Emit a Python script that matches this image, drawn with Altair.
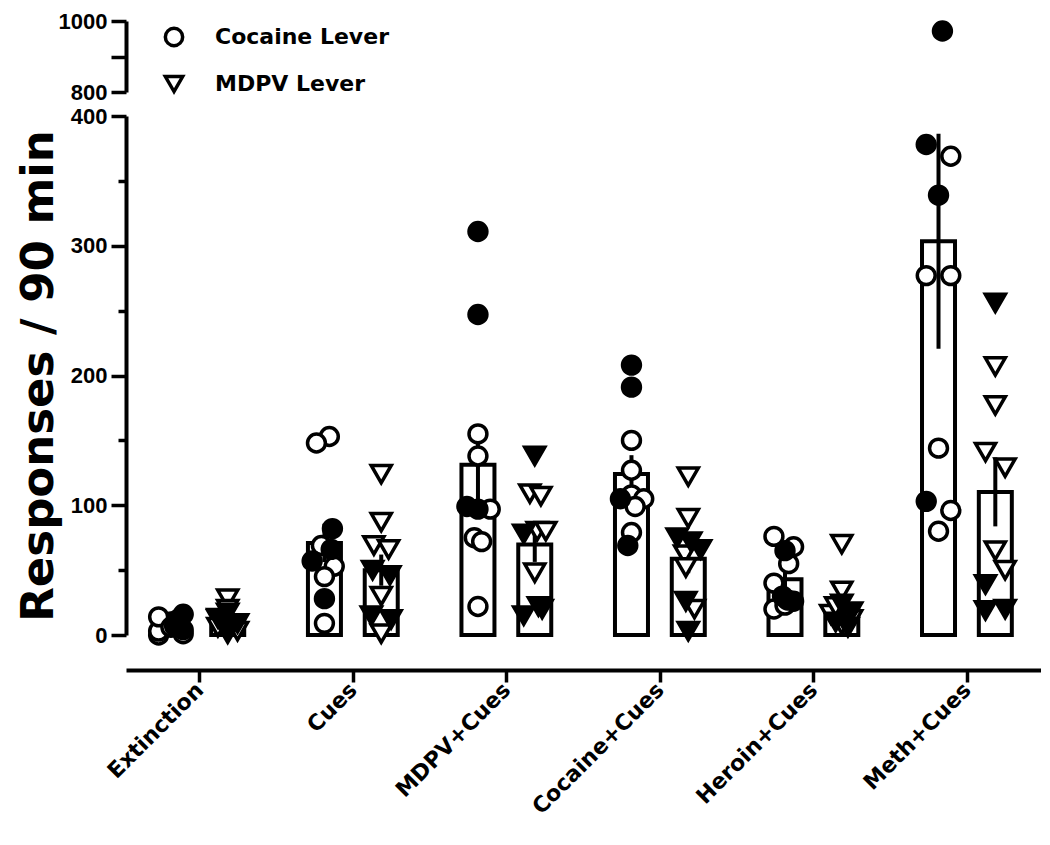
import json
import altair as alt
import pandas as pd

groups = ["Extinction", "Cues", "MDPV+Cues", "Cocaine+Cues", "Heroin+Cues", "Meth+Cues"]
levers = ["Cocaine Lever", "MDPV Lever"]

# Cocaine lever, open symbols
coc_open = [
    [0, 3, 10, 14, 6, 1],
    [153, 148, 69, 53, 45, 9],
    [155, 138, 97, 75, 72, 22],
    [150, 127, 108, 105, 99, 79],
    [76, 68, 55, 40, 20, 23],
    [369, 277, 277, 144, 96, 80],
]
coc_open_jit = [
    [-1, -1, 0, -1, 0, 1],
    [0.4, -0.65, -0.25, 0.8, 0, 0],
    [0, 0, 1, -0.3, 0.3, 0],
    [0, 0, 0, 1, 0.3, 0],
    [-0.9, 0.7, 0.3, -0.9, -0.9, 0],
    [1, -1, 1, 0, 1, 0],
]
# Cocaine lever, filled symbols
coc_filled = [
    [16, 12, 7, 4],
    [82, 66, 57, 28],
    [311, 247, 99, 97],
    [208, 191, 105, 69],
    [65, 30, 27, 26],
    [972, 378, 339, 103],
]
coc_filled_jit = [
    [1, 0.6, 0.3, 1],
    [0.65, 0.55, -1, 0],
    [0, 0, -0.9, 0],
    [0, 0, -0.9, -0.3],
    [0, -0.2, 0.2, 0.7],
    [0, -1, 0, -1],
]
# MDPV lever, open symbols
mdpv_open = [
    [28, 20, 12, 6, 3, 1],
    [124, 87, 69, 66, 30, 1],
    [109, 107, 80, 80, 48, 22],
    [122, 90, 62, 52, 20],
    [70, 34, 16, 12, 8, 22],
    [207, 177, 141, 129, 65, 50],
]
mdpv_open_jit = [
    [0, 0, -0.8, -0.8, 0.8, 0],
    [0, 0, -0.6, 0.6, 0, 0],
    [-0.4, 0.5, 0.2, 0.9, 0, 0.3],
    [0, 0, -0.3, -0.2, 0.5],
    [0, 0, -0.9, 0.8, 0, -0.5],
    [0, 0, -0.8, 0.8, 0, 0.8],
]
# MDPV lever, filled symbols
mdpv_filled = [
    [17, 13, 9, 5],
    [50, 46, 15, 12],
    [138, 78, 20, 15],
    [75, 72, 66, 26, 3],
    [24, 18, 10, 6],
    [256, 39, 19, 20],
]
mdpv_filled_jit = [
    [0, -0.8, 0.8, 0],
    [-0.7, 0.7, -0.8, 0.8],
    [0, -0.9, 0.6, -0.9],
    [-0.9, 0.2, 1, -0.2, 0],
    [0, 0.8, -0.5, 0.5],
    [0, -0.8, -0.8, 0.8],
]

rows = []
for kind, sets in [("open", [(levers[0], coc_open, coc_open_jit), (levers[1], mdpv_open, mdpv_open_jit)]),
                   ("filled", [(levers[0], coc_filled, coc_filled_jit), (levers[1], mdpv_filled, mdpv_filled_jit)])]:
    for lever, vals, jits in sets:
        for gi, g in enumerate(groups):
            for v, j in zip(vals[gi], jits[gi]):
                rows.append({"group": g, "gidx": gi, "lever": lever, "kind": kind, "value": v, "jit": j})
df = pd.DataFrame(rows)

LEV_OFF = 0.185
JIT = 0.08
FONT = "DejaVu Sans"
TICKFONT = "Liberation Sans"

xscale = alt.Scale(domain=[-0.445, 5.45], nice=False, zero=False)
shape_scale = alt.Scale(domain=levers, range=["circle", "triangle-down"])
fill_scale = alt.Scale(domain=["open", "filled"], range=["white", "black"])
size_val = alt.condition("datum.lever == 'Cocaine Lever'", alt.value(320), alt.value(400))
xpos_expr = f"datum.gidx + (datum.lever == 'Cocaine Lever' ? {-LEV_OFF} : {LEV_OFF})"
label_expr = json.dumps(groups) + "[datum.value]"

minor_dash = alt.condition("datum.value % 100 != 0", alt.value([8, 40]), alt.value([40, 0]))

xaxis = alt.Axis(values=list(range(len(groups))), labelExpr=label_expr, title=None,
                 offset=35, tickSize=12, labelAngle=-45, labelAlign="right",
                 labelBaseline="middle", labelFont=FONT, labelFontSize=22, labelPadding=4)
yaxis_lower = alt.Axis(values=list(range(0, 401, 50)), format="d",
                       labelExpr="datum.value % 100 == 0 ? datum.label : ''",
                       tickSize=15, tickDash=minor_dash, labelFont=TICKFONT, labelFontSize=22,
                       labelPadding=4, title="Responses / 90 min", titleFontSize=45, titlePadding=9)
yaxis_upper = alt.Axis(values=[800, 900, 1000], format="d",
                       labelExpr="datum.value % 200 == 0 ? datum.label : ''",
                       tickSize=15, tickDash=minor_dash, labelFont=TICKFONT, labelFontSize=22,
                       labelPadding=4, title=None)

base = alt.Chart(df).transform_calculate(xpos=xpos_expr)

bars = base.transform_aggregate(
    mean="mean(value)", groupby=["xpos"]
).mark_bar(orient="vertical", size=33, fill="white", stroke="black", strokeWidth=4).encode(
    x=alt.X("xpos:Q", scale=xscale, axis=xaxis),
    y=alt.Y("mean:Q", scale=alt.Scale(domain=[0, 400], nice=False), axis=yaxis_lower),
)

err = base.transform_aggregate(
    mean="mean(value)", se="stderr(value)", groupby=["xpos"]
).transform_calculate(
    lo="datum.mean - datum.se", hi="datum.mean + datum.se"
).mark_rule(strokeWidth=4, color="black").encode(
    x=alt.X("xpos:Q", scale=xscale),
    y=alt.Y("lo:Q"),
    y2="hi:Q",
)

pts = base.transform_filter("datum.value <= 400").transform_calculate(
    xp=f"datum.xpos + datum.jit * {JIT}"
).mark_point(filled=True, stroke="black", strokeWidth=3.5, opacity=1).encode(
    x=alt.X("xp:Q", scale=xscale),
    y=alt.Y("value:Q"),
    shape=alt.Shape("lever:N", scale=shape_scale, legend=None),
    fill=alt.Fill("kind:N", scale=fill_scale, legend=None),
    size=size_val,
)

lower = alt.layer(bars, err, pts).properties(width=915, height=519)

upper = base.transform_filter("datum.value >= 800").transform_calculate(
    xp=f"datum.xpos + datum.jit * {JIT}"
).mark_point(filled=True, stroke="black", strokeWidth=3.5, opacity=1).encode(
    x=alt.X("xp:Q", scale=xscale, axis=None),
    y=alt.Y("value:Q", scale=alt.Scale(domain=[800, 1000], nice=False, zero=False), axis=yaxis_upper),
    shape=alt.Shape("lever:N", scale=shape_scale,
                    legend=alt.Legend(title=None, orient="none", legendX=37, legendY=5,
                                      direction="vertical", padding=0, rowPadding=16,
                                      labelFont=FONT, labelFontWeight="bold", labelFontSize=22,
                                      labelColor="black", labelOffset=30, labelLimit=400,
                                      symbolSize=300, symbolStrokeWidth=3.5,
                                      symbolFillColor="white", symbolStrokeColor="black")),
    fill=alt.Fill("kind:N", scale=fill_scale, legend=None),
    size=size_val,
).properties(width=915, height=71)

chart = alt.vconcat(upper, lower, spacing=24, bounds="flush").resolve_scale(
    x="independent", y="independent", shape="independent", fill="independent"
).resolve_legend(shape="independent", fill="independent").properties(
    padding={"left": 8, "top": 2, "right": 0, "bottom": 0}
).configure_view(stroke=None).configure_axis(
    grid=False, domainColor="black", tickColor="black", labelColor="black", titleColor="black",
    domainWidth=4, tickWidth=3.5, labelFontWeight="bold",
    titleFont=FONT, titleFontWeight="bold"
)

chart.save("out.html", embed_options={"renderer": "svg", "actions": False})
